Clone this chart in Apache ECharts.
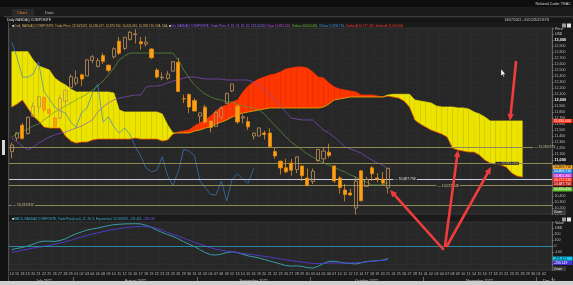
<!DOCTYPE html>
<html><head><meta charset="utf-8">
<script src="https://cdn.jsdelivr.net/npm/echarts@6/dist/echarts.min.js"></script>
<style>html,body{margin:0;padding:0;background:#1a1a1a;}#c{width:573px;height:285px;}</style>
</head><body><div id="c"></div>
<script>
const dates = ['2022-07-14','2022-07-15','2022-07-18','2022-07-19','2022-07-20','2022-07-21','2022-07-22','2022-07-25','2022-07-26','2022-07-27','2022-07-28','2022-07-29','2022-08-01','2022-08-02','2022-08-03','2022-08-04','2022-08-05','2022-08-08','2022-08-09','2022-08-10','2022-08-11','2022-08-12','2022-08-15','2022-08-16','2022-08-17','2022-08-18','2022-08-19','2022-08-22','2022-08-23','2022-08-24','2022-08-25','2022-08-26','2022-08-29','2022-08-30','2022-08-31','2022-09-01','2022-09-02','2022-09-06','2022-09-07','2022-09-08','2022-09-09','2022-09-12','2022-09-13','2022-09-14','2022-09-15','2022-09-16','2022-09-19','2022-09-20','2022-09-21','2022-09-22','2022-09-23','2022-09-26','2022-09-27','2022-09-28','2022-09-29','2022-09-30','2022-10-03','2022-10-04','2022-10-05','2022-10-06','2022-10-07','2022-10-10','2022-10-11','2022-10-12','2022-10-13','2022-10-14','2022-10-17','2022-10-18','2022-10-19','2022-10-20','2022-10-21','2022-10-24','2022-10-25','2022-10-26','2022-10-27','2022-10-28','2022-10-31','2022-11-01','2022-11-02','2022-11-03','2022-11-04','2022-11-07','2022-11-08','2022-11-09','2022-11-10','2022-11-11','2022-11-14','2022-11-15','2022-11-16','2022-11-17','2022-11-18','2022-11-21','2022-11-22','2022-11-23','2022-11-25','2022-11-28','2022-11-29','2022-11-30','2022-12-01','2022-12-02','2022-12-05'];

const opens = [11140,11366,11580,11440,11730,11880,12040,11840,11700,11700, 11980,12210,12280,12420,12400,12660,12560,12740,12580,12720, 12980,12860,13010,13090,12970,12930,12850,12500,12370,12360, 12480,12630,12020,12090,11990,11730,11880,11650,11560,11710, 11940,12150,11900,11700,11640,11400,11400,11450,11450,11140, 10980,10870,10950,10840,10900,10700,10640,10990,11020,11130, 10900,10700,10500,10450,10200,10820,10560,10870,10700,10680, 10536];
const closes = [11251,11452,11360,11713,11897,12059,11834,11782,11562,12032, 12162,12390,12369,12349,12668,12720,12657,12644,12494,12855, 12780,13047,13128,13103,12938,12965,12705,12382,12381,12432, 12639,12142,12018,11883,11816,11785,11631,11545,11792,11862, 12112,12266,11634,11720,11552,11448,11535,11425,11220,11067, 10868,10803,10830,11052,10738,10576,10815,11176,11149,11073, 10652,10542,10426,10417,10649,10321,10676,10772,10681,10615, 10860];
const lows = [11030,11320,11340,11420,11720,11795,11790,11700,11540,11680, 11910,12160,12240,12230,12400,12610,12540,12600,12460,12690, 12750,12830,12990,12940,12840,12890,12680,12360,12330,12330, 12480,12140,11950,11780,11810,11620,11600,11460,11550,11670, 11940,12130,11600,11610,11500,11340,11390,11340,11210,11020, 10760,10780,10740,10780,10650,10560,10600,10970,10950,11040, 10620,10440,10310,10400,10089,10310,10550,10650,10630,10580, 10442];
const highs = [11290,11460,11615,11725,11960,12065,12075,11855,11720,12080, 12170,12430,12490,12440,12680,12750,12700,12780,12590,12880, 13050,13050,13150,13181,13050,13060,12860,12530,12460,12480, 12645,12700,12090,12110,12030,11790,11920,11660,11820,11900, 12120,12270,11930,11760,11720,11460,11540,11490,11530,11200, 10990,11020,11020,11060,10910,10860,10860,11180,11220,11270, 10920,10730,10600,10520,10720,10830,10720,10900,10780,10800, 10871];

const tenkan = [11383,11433,11483,11517,11567,11600,11667,11733,11800,11850, 11900,11950,12000,12050,12100,12167,12233,12317,12417,12533, 12667,12733,12783,12783,12783,12783,12783,12783,12783,12783, 12783,12667,12500,12367,12250,12167,12100,12050,12017,12000, 11967,11967,11933,11900,11883,11867,11833,11767,11667,11567, 11483,11383,11300,11233,11167,11100,11050,11000,10950,10917, 10883,10833,10800,10750,10717,10667,10633,10583,10583,10583, 10620];
const kijun = [11367,11300,11233,11167,11217,11283,11333,11383,11417,11450, 11467,11500,11533,11567,11617,11667,11800,11883,11950,12000, 12033,12050,12067,12083,12083,12217,12233,12233,12250,12283, 12317,12333,12367,12383,12383,12367,12350,12350,12350,12350, 12333,12333,12333,12333,12333,12300,12250,12167,12083,12000, 11900,11800,11700,11683,11667,11667,11667,11583,11500,11450, 11383,11300,11217,11183,11150,11117,11050,11000,10950,10917, 10851];
const chikou = [12965,12705,12382,12381,12432,12639,12142,12018,11883,11816, 11785,11631,11545,11792,11862,12112,12266,11634,11720,11552, 11448,11535,11425,11220,11067,10868,10803,10830,11052,10738, 10576,10815,11176,11149,11073,10652,10542,10426,10417,10649, 10321,10676,10772,10681,10615,10860];
const senkouA = [11883,11933,12000,11867,11733,11650,11550,11533,11533,11533, 11400,11317,11283,11300,11300,11333,11350,11350,11350,11350, 11350,11350,11350,11367,11350,11350,11350,11350,11317,11333, 11433,11467,11483,11500,11567,11617,11667,11733,11817,11883, 11917,11967,12000,12133,12233,12300,12350,12383,12417,12433, 12467,12517,12533,12550,12550,12533,12467,12383,12367,12283, 12217,12183,12167,12150,12133,12083,12083,12083,12067,12050, 12067,12050,12033,11983,11883,11667,11600,11550,11500,11467, 11433,11383,11200,11167,11150,11133,11133,11083,11000,10950, 10933,10917,10883,10783,10733,10717];
const senkouB = [12805,12805,12805,12805,12667,12567,12533,12500,12367,12300, 12250,12183,12133,12133,12133,12133,12133,12133,12133,12117, 11833,11800,11800,11800,11800,11800,11800,11800,11767,11583, 11450,11450,11450,11450,11483,11500,11533,11550,11600,11633, 11667,11717,11750,11783,11800,11817,11833,11850,11867,11867, 11867,11867,11867,11867,11867,11867,11867,11867,11883,11933, 12000,12017,12033,12050,12050,12050,12050,12050,12050,12050, 12083,12095,12095,12095,12095,12000,11983,11967,11950,11900, 11883,11883,11883,11867,11867,11850,11800,11767,11717,11650, 11650,11650,11650,11650,11650,11650];
const macd = [-60,-40,-25,0,30,65,80,80,75,93, 120,165,205,235,265,285,300,320,340,355, 362,368,370,372,368,345,310,265,225,190, 160,120,70,30,-10,-60,-110,-145,-150,-135, -110,-95,-110,-140,-165,-180,-200,-225,-250,-275, -300,-325,-335,-330,-340,-360,-368,-340,-290,-255, -255,-270,-285,-290,-300,-280,-258,-250,-245,-235, -211];
const signal = [-105,-90,-70,-55,-35,-20,-5,10,30,50, 70,95,125,150,175,200,220,240,258,275, 290,305,315,322,327,325,315,295,265,225, 195,165,130,95,60,30,0,-30,-55,-70, -85,-95,-110,-125,-135,-145,-160,-172,-185,-200, -215,-230,-245,-255,-268,-280,-290,-295,-292,-285, -283,-283,-285,-283,-280,-272,-265,-255,-248,-240, -230];

const levelValues = [11212, 10945, 10683, 10572, 10250];
const levelText = ['11,192.975', '10,945.204', '10,687.756', '10,572.948', '10,213.812'];
const levelColors = ['#8e8a55', '#8e8a55', '#c9cce0', '#8e8a55', '#8e8a55'];
const levelLabelIdx = [97, 90, 71, 79, 0];

const monthNames = ['July 2022', 'August 2022', 'September 2022', 'October 2022', 'November 2022', 'Dec 22'];
const monthMidIdx = [6, 23, 45, 66, 87, 100];
const monthStartIdx = [12, 35, 56, 77, 98];

const F = 'Liberation Sans, Arial, sans-serif';
const YEL = '#ece400', RED = '#ff3600';
const fmt = v => Number(v).toLocaleString('en-US');

const candleData = opens.map((o, i) => [o, closes[i], lows[i], highs[i]]);
const cloudData = senkouA.map((a, i) => [i, a, senkouB[i]]);

const chart = echarts.init(document.getElementById('c'), null, {renderer: 'canvas', width: 573, height: 285});

const lineS = (name, data, color, z, op, w) => ({
  name, type: 'line', data, xAxisIndex: 0, yAxisIndex: 0, symbol: 'none', z: z,
  lineStyle: {color, width: w || 0.8, opacity: op}, silent: true, animation: false
});

function cloudItem(params, api) {
  const i = params.dataIndex;
  if (i >= senkouA.length - 1) return null;
  const a0 = senkouA[i], b0 = senkouB[i], a1 = senkouA[i + 1], b1 = senkouB[i + 1];
  const d0 = a0 - b0, d1 = a1 - b1;
  const pa0 = api.coord([i, a0]), pb0 = api.coord([i, b0]);
  const pa1 = api.coord([i + 1, a1]), pb1 = api.coord([i + 1, b1]);
  const col = d => d > 0 ? RED : YEL;
  const kids = [];
  const poly = (pts, c) => kids.push({type: 'polygon', shape: {points: pts}, style: {fill: c, stroke: c, lineWidth: 0.3}});
  if (d0 * d1 >= 0) {
    poly([pa0, pa1, pb1, pb0], (d0 + d1) > 0 ? RED : YEL);
  } else {
    const t = d0 / (d0 - d1);
    const pm = [pa0[0] + (pa1[0] - pa0[0]) * t, pa0[1] + (pa1[1] - pa0[1]) * t];
    poly([pa0, pm, pb0], col(d0));
    poly([pm, pa1, pb1], col(d1));
  }
  return {type: 'group', children: kids};
}

chart.setOption({
  backgroundColor: '#1a1a1a',
  animation: false,
  grid: [
    {left: 9, right: 21, top: 28, height: 186, show: true, backgroundColor: '#272727', borderColor: '#4a4a4a', borderWidth: 0.5, containLabel: false, outerBoundsMode: 'none'},
    {left: 9, right: 21, top: 222, height: 48, show: true, backgroundColor: '#272727', borderColor: '#4a4a4a', borderWidth: 0.5, containLabel: false, outerBoundsMode: 'none'}
  ],
  xAxis: [
    {type: 'category', gridIndex: 0, data: dates, boundaryGap: true,
     axisLine: {show: false}, axisTick: {show: false}, axisLabel: {show: false},
     splitLine: {show: true, interval: 1, lineStyle: {color: '#313131', width: 0.5}}},
    {type: 'category', gridIndex: 1, data: dates, boundaryGap: true,
     axisLine: {show: true, lineStyle: {color: '#555', width: 0.5}}, axisTick: {show: false},
     axisLabel: {show: true, interval: 0, fontSize: 3.6, color: '#bdbdbd', margin: 2, fontFamily: F,
       formatter: (v, i) => i === 100 ? '' : v.slice(8)},
     splitLine: {show: true, interval: 1, lineStyle: {color: '#313131', width: 0.5}}},
    {type: 'category', gridIndex: 1, data: dates, boundaryGap: true, position: 'bottom', offset: 7,
     axisLine: {show: false},
     axisTick: {show: true, interval: (i) => monthStartIdx.includes(i), length: 7, lineStyle: {color: '#9a9a9a', width: 0.6}},
     axisLabel: {show: true, interval: (i) => monthMidIdx.includes(i), fontSize: 3.8, color: '#c8c8c8', margin: 1.5, fontFamily: F,
       formatter: (v, i) => { const k = monthMidIdx.indexOf(i); return k >= 0 ? monthNames[k] : ''; }},
     splitLine: {show: false}}
  ],
  yAxis: [
    {type: 'value', gridIndex: 0, position: 'right', min: 10100, max: 13200, interval: 100,
     axisLine: {show: true, lineStyle: {color: '#8a8a8a', width: 0.6}},
     axisTick: {show: true, length: 2, lineStyle: {color: '#8a8a8a', width: 0.5}},
     axisLabel: {show: true, fontSize: 3.6, color: '#bdbdbd', margin: 2.5, fontFamily: F,
       formatter: v => v > 13000 ? '' : (v % 1000 === 0 ? '{b|' + fmt(v) + '}' : fmt(v)),
       rich: {b: {fontSize: 3.8, fontWeight: 'bold', color: '#ffffff', fontFamily: F}}},
     splitLine: {show: false}},
    {type: 'value', gridIndex: 0, position: 'right', min: 10100, max: 13200, interval: 200,
     axisLine: {show: false}, axisTick: {show: false}, axisLabel: {show: false},
     splitLine: {show: true, lineStyle: {color: '#313131', width: 0.5}}},
    {type: 'value', gridIndex: 1, position: 'right', min: -400, max: 400, interval: 100,
     axisLine: {show: true, lineStyle: {color: '#8a8a8a', width: 0.6}},
     axisTick: {show: true, length: 2, lineStyle: {color: '#8a8a8a', width: 0.5}},
     axisLabel: {show: true, fontSize: 3.6, color: '#bdbdbd', margin: 2.5, fontFamily: F,
       formatter: v => (v >= -100 && v <= 200) ? fmt(v) : ''},
     splitLine: {show: true, lineStyle: {color: '#313131', width: 0.5}}}
  ],
  series: [
    {name: 'Cloud', type: 'custom', data: cloudData, xAxisIndex: 0, yAxisIndex: 0, renderItem: cloudItem,
     encode: {x: 0, y: [1, 2]}, z: 2, silent: true, clip: true},
    lineS('SenkouA', senkouA, '#ff3000', 3, 1, 0.6),
    lineS('SenkouB', senkouB, '#e8dc00', 3, 1, 0.6),
    lineS('Chikou', chikou, '#3b7fc0', 4, 0.85),
    lineS('Kijun', kijun, '#8e4ccc', 4, 0.85),
    lineS('Tenkan', tenkan, '#5f9a3c', 4, 0.85),
    {name: 'Cndl', type: 'candlestick', data: candleData, xAxisIndex: 0, yAxisIndex: 0, barWidth: 3.6, z: 6, silent: true,
     itemStyle: {color: 'rgba(0,0,0,0)', color0: '#ffa012', borderColor: '#bf9158', borderColor0: '#e48e12', borderWidth: 0.8},
     markLine: {silent: true, symbol: ['none', 'none'], label: {show: false}, animation: false,
       data: levelValues.map((v, i) => ({yAxis: v, lineStyle: {color: levelColors[i], width: 1.2, type: 'solid'}}))}},
    {name: 'MACD', type: 'line', data: macd, xAxisIndex: 1, yAxisIndex: 2, symbol: 'none', z: 4, silent: true,
     lineStyle: {color: '#3aa9b4', width: 0.9},
     markLine: {silent: true, symbol: ['none', 'none'], label: {show: false}, animation: false,
       data: [{yAxis: 0, lineStyle: {color: '#2a8fb2', width: 0.9, type: 'solid'}}]}},
    {name: 'Signal', type: 'line', data: signal, xAxisIndex: 1, yAxisIndex: 2, symbol: 'none', z: 4, silent: true,
     lineStyle: {color: '#4f3dd2', width: 0.9}}
  ]
});

// ---- annotations ----
const G = [];
const txt = (x, y, text, fill, size, opt) => ({type: 'text', x, y, z: 150, silent: true,
  style: Object.assign({text, fill, fontSize: size, fontFamily: F, verticalAlign: 'middle'}, opt || {})});
const rect = (x, y, w, h, fill, z) => ({type: 'rect', shape: {x, y, width: w, height: h}, style: {fill}, z: z || 140, silent: true});

G.push(rect(0, 0, 573, 7, '#0e0e0e'));
G.push(txt(571, 3.6, 'Related Code: TEAC', '#d6d6d6', 3.8, {align: 'right'}));
G.push(rect(0, 7, 573, 10, '#1c1c1c'));
G.push(rect(12, 9, 22, 7, '#2a2a2a'));
G.push(txt(17, 12.6, 'Chart', '#f08a24', 4, {}));
G.push(txt(45, 12.6, 'Data', '#bcbcbc', 4, {}));
G.push({type: 'line', shape: {x1: 4, y1: 16.8, x2: 573, y2: 16.8}, style: {stroke: '#666', lineWidth: 0.6}, z: 141, silent: true});
G.push(rect(5, 17.2, 568, 5, '#161616'));
G.push(txt(7, 19.7, 'Daily NASDAQ COMPOSITE', '#e0e0e0', 3.4, {}));
G.push(txt(549, 19.7, '14/07/2022 - 05/12/2022 EYS', '#d0d0d0', 3.4, {align: 'right'}));
G.push(rect(0, 17, 8, 264, '#121212'));
G.push({type: 'line', shape: {x1: 8.5, y1: 22, x2: 8.5, y2: 281}, style: {stroke: '#6a6a6a', lineWidth: 0.6}, z: 141, silent: true});
G.push(rect(2, 140, 3, 15, '#d8d8d8', 142));
G.push({type: 'text', x: 12, y: 26, z: 150, silent: true, style: {
  text: '{i|■}{a|Cndl, NASDAQ COMPOSITE, Trade Price, 21/10/2022, 10,536.027, 10,870.700, 10,442.491, 10,859.716, N/A, N/A, }{i|■}{b|Ichi, NASDAQ COMPOSITE, Trade Price, 9, 26, 52, 26, 26, 21/10/2022, }{k|Kijun 10,851.301, }{t|Tenkan 10,620.456, }{c|Chikou 10,859.716, }{s|SenkouA 10,717.235, SenkouB 11,650.000}',
  verticalAlign: 'middle', fontFamily: F, fontSize: 3,
  rich: {
    i: {fill: '#dcdcdc', fontSize: 3.4, fontFamily: F},
    a: {fill: '#e0b060', fontSize: 3, fontFamily: F},
    b: {fill: '#9a66ff', fontSize: 3, fontFamily: F},
    k: {fill: '#c050e8', fontSize: 3, fontFamily: F},
    t: {fill: '#6cc040', fontSize: 3, fontFamily: F},
    c: {fill: '#3a9ae8', fontSize: 3, fontFamily: F},
    s: {fill: '#ff3a2a', fontSize: 3, fontFamily: F}
  }}});
G.push({type: 'text', x: 12, y: 219.5, z: 150, silent: true, style: {
  text: '{i|■}{a|MACD, NASDAQ COMPOSITE, Trade Price(Last), 12, 26, 9, Exponential, 21/10/2022, -211.421, }{b|-230.149}',
  verticalAlign: 'middle', fontFamily: F, fontSize: 3,
  rich: {i: {fill: '#dcdcdc', fontSize: 3.4, fontFamily: F}, a: {fill: '#3ab4d4', fontSize: 3, fontFamily: F}, b: {fill: '#7a5cff', fontSize: 3, fontFamily: F}}}});
G.push(txt(555, 29.5, 'Price', '#d0d0d0', 3.5, {}));
G.push(txt(555, 34, 'USD', '#d0d0d0', 3.5, {}));
G.push(txt(555, 223.5, 'Value', '#d0d0d0', 3.5, {}));
G.push(txt(555, 228, 'USD', '#d0d0d0', 3.5, {}));
[[562, 23.5], [567, 23.5], [562, 217.5], [567, 217.5]].forEach((p, k) => G.push(rect(p[0], p[1], 4, 4, k % 2 ? '#e0e0e0' : '#9a9a9a', 142)));
[[209.5], [266.5]].forEach(p => { G.push(rect(553, p[0], 13, 4.6, '#3a3a3a', 142)); G.push(txt(554, p[0] + 2.4, 'Zoom', '#e0e0e0', 3.2, {})); });

levelValues.forEach((v, i) => {
  const p = chart.convertToPixel({xAxisIndex: 0, yAxisIndex: 0}, [levelLabelIdx[i], v]);
  G.push(txt(p[0], p[1], '— ' + levelText[i], i === 2 ? '#e8e8f0' : '#d8d090', 3.4, {backgroundColor: '#272727', padding: [0, 1]}));
});

const tagBox = (y, text, bg, fg) => { G.push(rect(553, y - 2.1, 19.5, 4.2, bg, 160)); G.push(Object.assign(txt(554, y, text, fg, 3.4, {}), {z: 161})); };
const yB = chart.convertToPixel({yAxisIndex: 0}, senkouB[senkouB.length - 1]);
tagBox(yB, '11,650.000', '#ff2a12', '#ffffff');
const y0 = chart.convertToPixel({yAxisIndex: 0}, closes[closes.length - 1]) - 1.2;
tagBox(y0, '10,859.716', '#f5a623', '#111');
tagBox(y0 + 4.2, '10,859.716', '#2f92e6', '#fff');
tagBox(y0 + 8.4, '10,851.301', '#c63ee6', '#fff');
tagBox(y0 + 12.6, '10,717.235', '#ff2a12', '#fff');
tagBox(y0 + 16.8, '10,687.756', '#b0201a', '#fff');
tagBox(y0 + 22.2, '10,620.456', '#64c02a', '#fff');
const ym = chart.convertToPixel({yAxisIndex: 2}, macd[macd.length - 1]);
tagBox(ym, '-211.421', '#10c4ee', '#111');
tagBox(ym + 4.2, '-230.149', '#4a2fd6', '#fff');

G.push(rect(0, 281, 573, 4, '#cfcfcf', 170));
G.push(txt(528, 283, 'for Data Period', '#333', 3, {}));
G.push(txt(560, 283, '<  >', '#333', 3, {}));

const arrow = (x1, y1, x2, y2) => {
  const a = Math.atan2(y2 - y1, x2 - x1), L = 7, W = 3.2;
  const bx = x2 - L * Math.cos(a), by = y2 - L * Math.sin(a);
  const px = -Math.sin(a) * W, py = Math.cos(a) * W;
  G.push({type: 'line', shape: {x1, y1, x2: bx, y2: by}, style: {stroke: '#f03c3c', lineWidth: 2.6, lineCap: 'round'}, z: 200, silent: true});
  G.push({type: 'polygon', shape: {points: [[x2, y2], [bx + px, by + py], [bx - px, by - py]]}, style: {fill: '#f03c3c'}, z: 200, silent: true});
};
arrow(443, 249, 390, 190);
arrow(445, 246, 458, 150);
arrow(447, 246, 491, 167);
arrow(516, 62, 510, 121);
G.push({type: 'polygon', shape: {points: [[501, 69], [501, 76], [502.6, 74.6], [503.6, 77], [504.5, 76.6], [503.5, 74.2], [505.5, 74.2]]}, style: {fill: '#ffffff', stroke: '#222', lineWidth: 0.4}, z: 210, silent: true});

chart.setOption({graphic: G});
</script>
</body></html>
